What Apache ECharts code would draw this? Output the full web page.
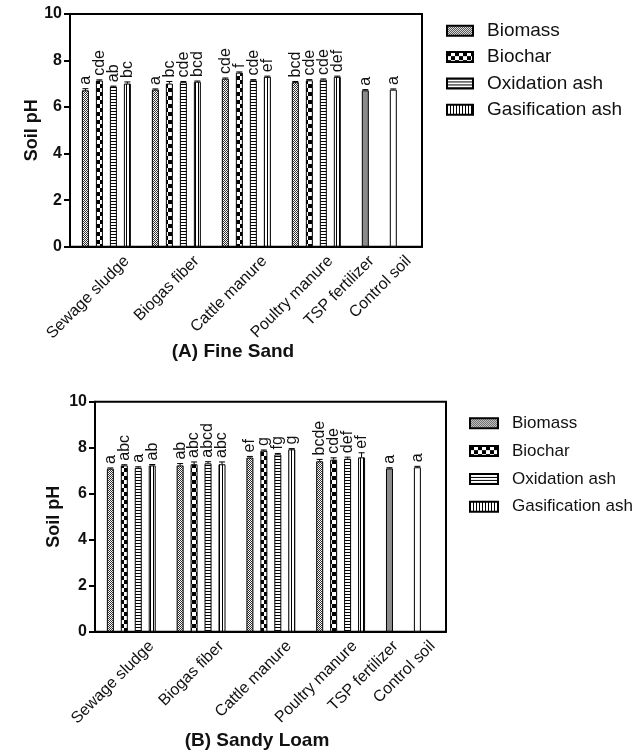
<!DOCTYPE html>
<html><head><meta charset="utf-8">
<script src="https://cdn.jsdelivr.net/npm/echarts@6/dist/echarts.min.js"></script>
<style>html,body{margin:0;padding:0;background:#fff;} #c{width:643px;height:753px;}</style>
</head><body><div id="c"></div>
<script>
// ---------------- DATA ----------------
const seriesNames = ['Biomass', 'Biochar', 'Oxidation ash', 'Gasification ash'];
const groupNames = ['Sewage sludge', 'Biogas fiber', 'Cattle manure', 'Poultry manure'];
const singleNames = ['TSP fertilizer', 'Control soil'];
const categoryLabels = ['Sewage sludge', 'Biogas fiber', 'Cattle manure', 'Poultry manure', 'TSP fertilizer', 'Control soil'];
const yTicks = [0, 2, 4, 6, 8, 10];
const yAxisTitle = 'Soil pH';
const panelTitles = ['(A) Fine Sand', '(B) Sandy Loam'];

// (A) Fine Sand — values per group (Sewage, Biogas, Cattle, Poultry)
const fsBiomass = [6.72, 6.75, 7.22, 7.07];
const fsBiochar = [7.14, 7.01, 7.48, 7.15];
const fsOxidation = [6.88, 7.07, 7.15, 7.18];
const fsGasification = [7.01, 7.09, 7.30, 7.30];
const fsSingles = [6.72, 6.75];          // TSP fertilizer, Control soil
const fsBiomassErr = [0.07, 0.03, 0.03, 0.03];
const fsBiocharErr = [0.03, 0.09, 0.03, 0.03];
const fsOxidationErr = [0.02, 0.03, 0.03, 0.03];
const fsGasificationErr = [0.07, 0.03, 0.03, 0.03];
const fsSinglesErr = [0.03, 0.03];
const fsBiomassLetters = ['a', 'a', 'cde', 'bcd'];
const fsBiocharLetters = ['cde', 'bc', 'f', 'cde'];
const fsOxidationLetters = ['ab', 'cde', 'cde', 'cde'];
const fsGasificationLetters = ['bc', 'bcd', 'ef', 'def'];
const fsSinglesLetters = ['a', 'a'];

// (B) Sandy Loam
const slBiomass = [7.09, 7.23, 7.57, 7.41];
const slBiochar = [7.23, 7.28, 7.87, 7.48];
const slOxidation = [7.13, 7.32, 7.71, 7.52];
const slGasification = [7.23, 7.28, 7.93, 7.58];
const slSingles = [7.10, 7.15];
const slBiomassErr = [0.03, 0.08, 0.05, 0.08];
const slBiocharErr = [0.03, 0.10, 0.03, 0.08];
const slOxidationErr = [0.04, 0.07, 0.04, 0.07];
const slGasificationErr = [0.04, 0.10, 0.03, 0.20];
const slSinglesErr = [0.03, 0.04];
const slBiomassLetters = ['a', 'ab', 'ef', 'bcde'];
const slBiocharLetters = ['abc', 'abc', 'g', 'cde'];
const slOxidationLetters = ['a', 'abcd', 'fg', 'def'];
const slGasificationLetters = ['ab', 'abc', 'g', 'ef'];
const slSinglesLetters = ['a', 'a'];

// ---------------- STYLE ----------------
const FONT = '"Liberation Sans", Arial, Helvetica, sans-serif';
const labelSlots = [2.95, 7.95, 12.8, 17.5, 20.45, 23.1]; // anchor of rotated category labels (layout)

function makePattern(kind) {
  const c = document.createElement('canvas');
  const ctx = c.getContext('2d');
  if (kind === 'biomass') {
    c.width = 2; c.height = 2;
    ctx.fillStyle = '#fff'; ctx.fillRect(0, 0, 2, 2);
    ctx.fillStyle = '#333'; ctx.fillRect(0, 0, 1, 1); ctx.fillRect(1, 1, 1, 1);
  } else if (kind === 'biochar') {
    c.width = 8; c.height = 8;
    ctx.fillStyle = '#fff'; ctx.fillRect(0, 0, 8, 8);
    ctx.fillStyle = '#000'; ctx.fillRect(0, 0, 4, 4); ctx.fillRect(4, 4, 4, 4);
  } else if (kind === 'oxidation') {
    c.width = 3; c.height = 3;
    ctx.fillStyle = '#fff'; ctx.fillRect(0, 0, 3, 3);
    ctx.fillStyle = '#000'; ctx.fillRect(0, 0, 3, 1);
  } else {
    c.width = 3; c.height = 3;
    ctx.fillStyle = '#fff'; ctx.fillRect(0, 0, 3, 3);
    ctx.fillStyle = '#000'; ctx.fillRect(0, 0, 1, 3);
  }
  return { image: c, repeat: 'repeat' };
}
const fills = [makePattern('biomass'), makePattern('biochar'), makePattern('oxidation'), makePattern('gasification')];
const singleFills = ['#8c8c8c', '#ffffff'];

const panels = [
  {
    values: [fsBiomass, fsBiochar, fsOxidation, fsGasification], singles: fsSingles,
    errs: [fsBiomassErr, fsBiocharErr, fsOxidationErr, fsGasificationErr], singlesErr: fsSinglesErr,
    letters: [fsBiomassLetters, fsBiocharLetters, fsOxidationLetters, fsGasificationLetters], singlesLetters: fsSinglesLetters
  },
  {
    values: [slBiomass, slBiochar, slOxidation, slGasification], singles: slSingles,
    errs: [slBiomassErr, slBiocharErr, slOxidationErr, slGasificationErr], singlesErr: slSinglesErr,
    letters: [slBiomassLetters, slBiocharLetters, slOxidationLetters, slGasificationLetters], singlesLetters: slSinglesLetters
  }
];

const gridLayout = [
  { left: 70, top: 14, width: 352, height: 232.7 },
  { left: 95, top: 401.7, width: 351, height: 230 }
];
const nameGaps = [29, 32];

const series = [];
panels.forEach((p, gi) => {
  const errData = [];
  const errLetters = [];
  seriesNames.forEach((name, s) => {
    series.push({
      type: 'bar', name: name, xAxisIndex: gi, yAxisIndex: gi,
      barWidth: 7, barGap: '-100%',
      itemStyle: { color: fills[s], borderColor: '#000', borderWidth: 1 },
      data: p.values[s].map((v, g) => [g * 5 + s, v]),
      z: 2
    });
    p.values[s].forEach((v, g) => {
      errData.push([g * 5 + s, v, p.errs[s][g]]);
      errLetters.push(p.letters[s][g]);
    });
  });
  series.push({
    type: 'bar', name: 'single' + gi, xAxisIndex: gi, yAxisIndex: gi,
    barWidth: 7, barGap: '-100%',
    data: p.singles.map((v, i) => ({ value: [20 + 2 * i, v], itemStyle: { color: singleFills[i], borderColor: '#000', borderWidth: 1 } })),
    z: 2
  });
  p.singles.forEach((v, i) => {
    errData.push([20 + 2 * i, v, p.singlesErr[i]]);
    errLetters.push(p.singlesLetters[i]);
  });
  series.push({
    type: 'custom', xAxisIndex: gi, yAxisIndex: gi, z: 5, silent: true,
    data: errData,
    renderItem: function (params, api) {
      const x = api.value(0), v = api.value(1), e = api.value(2);
      const p0 = api.coord([x, v]);
      const p1 = api.coord([x, v + e]);
      return {
        type: 'group',
        children: [
          { type: 'line', shape: { x1: p0[0], y1: p0[1], x2: p1[0], y2: p1[1] }, style: { stroke: '#000', lineWidth: 1 } },
          { type: 'line', shape: { x1: p1[0] - 3, y1: p1[1], x2: p1[0] + 3, y2: p1[1] }, style: { stroke: '#000', lineWidth: 1 } },
          { type: 'text', x: p1[0], y: p1[1] - 4, rotation: Math.PI / 2,
            style: { text: errLetters[params.dataIndex], x: 0, y: 0, align: 'left', verticalAlign: 'middle',
                     fill: '#111', font: '16px ' + FONT } }
        ]
      };
    }
  });
});

const option = {
  backgroundColor: '#fff',
  animation: false,
  title: [
    { text: panelTitles[0], left: 233, top: 342, textAlign: 'center', padding: 0,
      textStyle: { fontFamily: FONT, fontWeight: 'bold', fontSize: 19, color: '#111' } },
    { text: panelTitles[1], left: 257, top: 731, textAlign: 'center', padding: 0,
      textStyle: { fontFamily: FONT, fontWeight: 'bold', fontSize: 19, color: '#111' } }
  ],
  legend: [
    { data: seriesNames, orient: 'vertical', left: 446, top: 21.3, itemWidth: 26, itemHeight: 10, itemGap: 7.3,
      icon: 'rect', padding: 0, selectedMode: false,
      textStyle: { fontFamily: FONT, fontSize: 19, color: '#111', padding: [0, 0, 0, 9] } },
    { data: seriesNames, orient: 'vertical', left: 469, top: 414.8, itemWidth: 28, itemHeight: 10, itemGap: 10.8,
      icon: 'rect', padding: 0, selectedMode: false,
      textStyle: { fontFamily: FONT, fontSize: 17, color: '#111', padding: [0, 0, 0, 9] } }
  ],
  grid: gridLayout.map(g => Object.assign({ show: true, borderColor: '#000', borderWidth: 2, backgroundColor: 'transparent' }, g)),
  xAxis: [0, 1].map(gi => ({
    type: 'value', gridIndex: gi, min: -1.1, max: 24.05,
    splitLine: { show: false },
    axisLine: { show: true, onZero: false, lineStyle: { color: '#000', width: 2 } },
    axisTick: { show: false },
    axisLabel: {
      customValues: labelSlots,
      rotate: 45, margin: 12, fontFamily: FONT, fontSize: 16, color: '#111',
      formatter: function (val) {
        let best = 0, bd = 1e9;
        labelSlots.forEach((s, i) => { const d = Math.abs(s - val); if (d < bd) { bd = d; best = i; } });
        return categoryLabels[best];
      }
    }
  })),
  yAxis: [0, 1].map(gi => ({
    type: 'value', gridIndex: gi, min: yTicks[0], max: yTicks[yTicks.length - 1], interval: 2,
    name: yAxisTitle, nameLocation: 'middle', nameGap: nameGaps[gi], nameMoveOverlap: false,
    nameTextStyle: { fontFamily: FONT, fontWeight: 'bold', fontSize: 18, color: '#111' },
    splitLine: { show: false },
    axisLine: { show: true, onZero: false, lineStyle: { color: '#000', width: 2 } },
    axisTick: { show: true, length: 6, lineStyle: { color: '#000', width: 2 } },
    axisLabel: { margin: 8, fontFamily: FONT, fontWeight: 'bold', fontSize: 16, color: '#111' }
  })),
  series: series
};

const chart = echarts.init(document.getElementById('c'), null, { renderer: 'canvas' });
chart.setOption(option);
</script>
</body></html>
